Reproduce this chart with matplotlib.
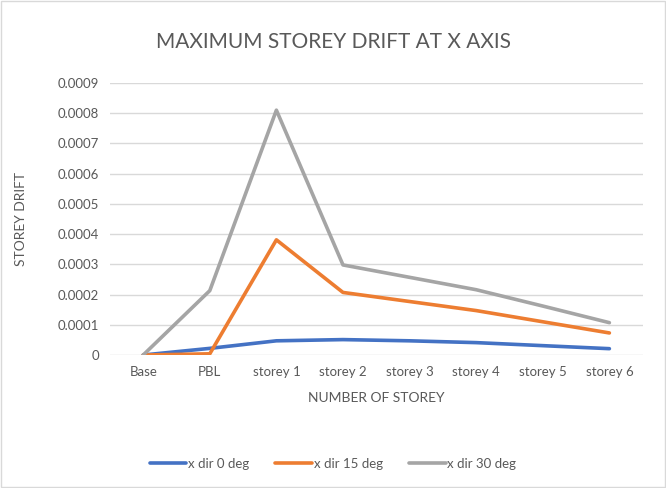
import matplotlib.pyplot as plt
from matplotlib.patches import Rectangle

plt.rcParams["font.family"] = ["Lato", "DejaVu Sans"]

pisos = ["Base", "PBL", "storey 1", "storey 2", "storey 3", "storey 4", "storey 5", "storey 6"]
deriva_0 = [0, 0.000022, 0.000047, 0.000051, 0.000047, 0.000041, 0.000031, 0.000021]
deriva_15 = [0, 0.000004, 0.000381, 0.000207, 0.000177, 0.000147, 0.000110, 0.000073]
deriva_30 = [0, 0.000213, 0.000810, 0.000298, 0.000257, 0.000216, 0.000162, 0.000107]
ticks_y = [0, 0.0001, 0.0002, 0.0003, 0.0004, 0.0005, 0.0006, 0.0007, 0.0008, 0.0009]

gris_texto = "#595959"

fig = plt.figure(figsize=(6.66, 4.88), dpi=100)
ax = fig.add_axes([0.165, 0.2725, 0.8, 0.5575])

x = range(len(pisos))
ax.plot(x, deriva_0, color="#4472C4", lw=2.6, label="x dir 0 deg", solid_capstyle="round")
ax.plot(x, deriva_15, color="#ED7D31", lw=2.6, label="x dir 15 deg", solid_capstyle="round")
ax.plot(x, deriva_30, color="#A5A5A5", lw=2.6, label="x dir 30 deg", solid_capstyle="round")

ax.set_xlim(-0.5, len(pisos) - 0.5)
ax.set_ylim(0, 0.0009)
ax.set_xticks(list(x))
ax.set_xticklabels(pisos)
ax.set_yticks(ticks_y)
ax.set_yticklabels([("%.4f" % t).rstrip("0").rstrip(".") for t in ticks_y])
ax.tick_params(length=0, labelsize=9.5, colors=gris_texto, pad=8)
ax.grid(axis="y", color="#D9D9D9", lw=1)
ax.set_axisbelow(True)
for s in ax.spines.values():
    s.set_visible(False)

ax.set_xlabel("NUMBER OF STOREY", fontsize=10, color=gris_texto, labelpad=10)
ax.set_ylabel("STOREY DRIFT", fontsize=10, color=gris_texto, labelpad=22)
fig.text(0.5, 0.913, "MAXIMUM STOREY DRIFT AT X AXIS", ha="center", va="center",
         fontsize=15, color=gris_texto)

fig.legend(loc="center", bbox_to_anchor=(0.5, 0.05), ncol=3, frameon=False,
           fontsize=9.5, labelcolor=gris_texto, handlelength=2.8, handletextpad=0.1,
           columnspacing=2.0)

fig.patches.append(Rectangle((0.002, 0.002), 0.996, 0.996, transform=fig.transFigure,
                             fill=False, edgecolor="#D9D9D9", lw=1))

fig.savefig("out.png", dpi=100)
